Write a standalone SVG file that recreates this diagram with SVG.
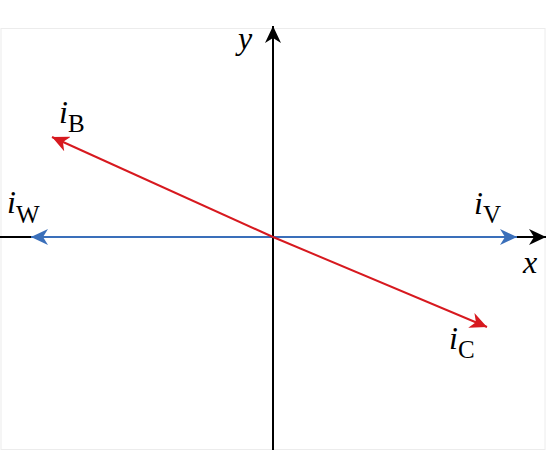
<svg xmlns="http://www.w3.org/2000/svg" width="546" height="450" viewBox="0 0 546 450">
<style>
.lbl{font-family:"Liberation Serif","Times New Roman",serif;font-style:italic;font-size:32px;fill:#000}
.sub{font-family:"Liberation Serif","Times New Roman",serif;font-style:normal;font-size:25px}
.ax{stroke:#000;stroke-width:2;fill:none}
.blue{stroke:#3a6fba;stroke-width:2;fill:none}
.red{stroke:#d7191f;stroke-width:2;fill:none}
</style>
<defs>
<marker id="ab" markerWidth="18" markerHeight="16" refX="17" refY="8" orient="auto" markerUnits="userSpaceOnUse"><path d="M0,0 L17,8 L0,16 L5,8 Z" fill="#000"/></marker>
<marker id="abl" markerWidth="18" markerHeight="16" refX="17" refY="8" orient="auto" markerUnits="userSpaceOnUse"><path d="M0,0 L17,8 L0,16 L5,8 Z" fill="#3a6fba"/></marker>
<marker id="ar" markerWidth="18" markerHeight="16" refX="17" refY="8" orient="auto" markerUnits="userSpaceOnUse"><path d="M0,0 L17,8 L0,16 L5,8 Z" fill="#d7191f"/></marker>
</defs>
<rect x="0" y="0" width="546" height="450" fill="#fff"/>
<rect x="1" y="28.5" width="544" height="421" fill="none" stroke="#ececec" stroke-width="1"/>
<g id="connectors">
<line class="ax" x1="0" y1="237" x2="546" y2="237" marker-end="url(#ab)"/>
<line class="ax" x1="273" y1="450" x2="273" y2="26" marker-end="url(#ab)"/>
<line class="blue" x1="273" y1="237" x2="31" y2="237" marker-end="url(#abl)"/>
<line class="blue" x1="273" y1="237" x2="517" y2="237" marker-end="url(#abl)"/>
<line class="red" x1="273" y1="237" x2="52" y2="137" marker-end="url(#ar)"/>
<line class="red" x1="273" y1="237" x2="487" y2="327" marker-end="url(#ar)"/>
</g>
<g id="label-y"><text class="lbl" x="238" y="49">y</text></g>
<g id="label-x"><text class="lbl" x="523" y="273">x</text></g>
<g id="label-iB"><text class="lbl" x="59" y="123">i<tspan class="sub" dy="9">B</tspan></text></g>
<g id="label-iW"><text class="lbl" x="7" y="213">i<tspan class="sub" dy="10">W</tspan></text></g>
<g id="label-iV"><text class="lbl" x="474" y="214">i<tspan class="sub" dy="9">V</tspan></text></g>
<g id="label-iC"><text class="lbl" x="449" y="349">i<tspan class="sub" dy="9">C</tspan></text></g>
</svg>
